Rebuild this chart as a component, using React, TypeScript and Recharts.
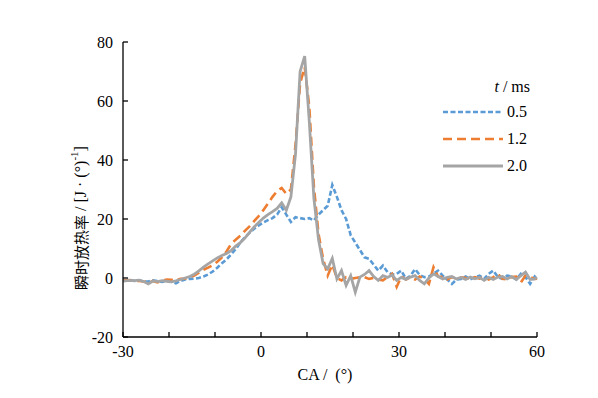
import { Label, Line, LineChart, XAxis, YAxis } from "recharts";

// crank angle, deg (ends + half-degree grid)
const CA = [
  -30, -29.5, -28.5, -27.5, -26.5, -25.5, -24.5, -23.5, -22.5, -21.5,
  -20.5, -19.5, -18.5, -17.5, -16.5, -15.5, -14.5, -13.5, -12.5, -11.5,
  -10.5, -9.5, -8.5, -7.5, -6.5, -5.5, -4.5, -3.5, -2.5, -1.5,
  -0.5, 0.5, 1.5, 2.5, 3.5, 4.5, 5.5, 6.5, 7.5, 8.5,
  9.5, 10.5, 11.5, 12.5, 13.5, 14.5, 15.5, 16.5, 17.5, 18.5,
  19.5, 20.5, 21.5, 22.5, 23.5, 24.5, 25.5, 26.5, 27.5, 28.5,
  29.5, 30.5, 31.5, 32.5, 33.5, 34.5, 35.5, 36.5, 37.5, 38.5,
  39.5, 40.5, 41.5, 42.5, 43.5, 44.5, 45.5, 46.5, 47.5, 48.5,
  49.5, 50.5, 51.5, 52.5, 53.5, 54.5, 55.5, 56.5, 57.5, 58.5,
  59.5, 60,
];

// t = 0.5 ms
const HRR_05 = [
  -1, -0.9, -0.6, -1, -0.8, -1.2, -1.2, -0.8, -1, -1.3,
  -1, -1.3, -1.8, -1, -0.5, -0.3, -0.2, 0, 0.5, 1.2,
  2.2, 3.5, 5, 6.3, 8, 9.8, 12, 13.8, 15.3, 16.7,
  17.8, 18.8, 19.6, 20.3, 21.5, 24, 21.5, 19, 20.6, 20.3,
  20, 20.3, 19.5, 21.5, 23, 24.5, 31.5, 27.5, 23, 20,
  14.5, 12, 9.5, 7, 6.5, 4.5, 2.5, 4.2, 2, 1.2,
  1.4, 2.5, -0.3, 0.8, 3, 1, 0.3, 0.5, 1.5, 2.5,
  0.8, -0.5, -2, -0.5, -0.3, 0.5, -0.5, 0.3, 0.8, -0.3,
  1.4, 2.5, 0.3, -0.3, 0.8, 0.5, -0.5, 1.4, 0.3, -2,
  0.5, -0.3,
];

// t = 1.2 ms
const HRR_12 = [
  -0.8, -0.8, -0.7, -1, -1, -1.2, -1.5, -1, -1.5, -1,
  -0.5, -0.6, -0.8, -0.3, -0.2, 0.3, 0.8, 1.8, 2.8, 3.5,
  4.3, 5.5, 7, 9, 11.5, 13, 14.3, 16, 17.5, 19.3,
  21, 23, 25.2, 27.5, 29.5, 30.5, 28.5, 30, 45, 66,
  71.5, 58, 31, 15, 6.5, 0.8, 4.5, 0, -0.8, 0.3,
  -0.3, 0, 0.3, 0.3, -0.3, 0, -0.5, -0.8, 0.3, 1.4,
  -3, 0.5, -0.5, 0.3, -0.5, 0.5, -0.3, -2, 3.7, 0.5,
  0.3, -0.5, 0.3, -0.3, 0.2, 0, -0.3, 0.3, -0.2, 0.3,
  -0.5, 0.3, 1.4, -0.3, -0.5, 0.3, 0.5, -1.5, 0.8, 0.3,
  -0.3, -0.2,
];

// t = 2.0 ms
const HRR_20 = [
  -1, -1, -0.8, -0.9, -0.7, -1.2, -2, -1, -1.2, -0.9,
  -1.1, -1.3, -1, -0.5, 0, 0.5, 1.3, 2.4, 3.7, 4.8,
  5.8, 6.8, 7.6, 8.3, 9.3, 10.8, 12, 13.5, 15.5, 17.3,
  18.8, 20.3, 21.5, 22.5, 23.6, 25.5, 23, 27.5, 42, 70,
  75.2, 53, 27, 13, 4.9, 3.1, 6.6, -0.3, 2.5, -2.5,
  0.8, -4.8, 0.3, 1.2, 2.5, 0.5, -0.8, 0.8, 0.2, 1,
  -0.8, 0.2, -0.5, 0.3, 0.8, -0.8, -2, 0, 1.4, 0.5,
  -0.3, 0.2, 0.5, -0.3, 0.2, -0.5, 0.3, -0.3, 0.2, -0.8,
  0.2, -0.5, 0.3, 0.5, -0.3, 0.5, -0.5, 0.8, 2, -0.5,
  -0.3, 0.3,
];

const X_TICKS = [-30, -20, -10, 0, 10, 20, 30, 40, 50, 60];
const X_LABELED = [-30, 0, 30, 60];
const Y_TICKS = [-20, 0, 20, 40, 60, 80];

const SERIES = [
  { key: "t05", name: "0.5", color: "#5B9BD5", dash: "5 2.5", width: 2.6 },
  { key: "t12", name: "1.2", color: "#ED7D31", dash: "9 5", width: 2.6 },
  { key: "t20", name: "2.0", color: "#A5A5A5", dash: undefined, width: 2.8 },
];

const data = CA.map((ca, i) => ({
  ca,
  t05: HRR_05[i],
  t12: HRR_12[i],
  t20: HRR_20[i],
}));

const SERIF = '"Liberation Serif", "Times New Roman", serif';
const CJK = '"Noto Sans CJK SC", sans-serif';

const W = 582;
const H = 382;

function YTitle() {
  return (
    <text
      x={72}
      y={282}
      transform="rotate(-90 72 282)"
      textAnchor="start"
      dominantBaseline="central"
      fontSize={15}
      fill="#000"
    >
      <tspan fontFamily={CJK}>瞬时放热率</tspan>
      <tspan fontFamily={SERIF} fontSize={16}>{"\u00a0/\u00a0[J\u00a0·\u00a0(°)"}</tspan>
      <tspan fontFamily={SERIF} fontSize={11} dy={-6}>-1</tspan>
      <tspan fontFamily={SERIF} fontSize={16} dy={6}>]</tspan>
    </text>
  );
}

function XTitle() {
  return (
    <text
      x={317}
      y={372}
      textAnchor="middle"
      fontSize={16}
      fontFamily={SERIF}
      fill="#000"
    >
      {"CA /\u00a0\u00a0(°)"}
    </text>
  );
}

function LegendBox() {
  return (
    <svg
      width={110}
      height={110}
      style={{ position: "absolute", left: 432, top: 64 }}
    >
      <text x={90} y={20} textAnchor="end" fontSize={16} fontFamily={SERIF}>
        <tspan fontStyle="italic">t</tspan> / ms
      </text>
      {SERIES.map((s, i) => {
        const y = 40 + i * 27;
        return (
          <g key={s.key}>
            <line
              x1={3}
              x2={63}
              y1={y}
              y2={y}
              stroke={s.color}
              strokeWidth={s.width}
              strokeDasharray={s.dash}
            />
            <text x={67} y={y + 5} fontSize={16} fontFamily={SERIF}>
              {s.name}
            </text>
          </g>
        );
      })}
    </svg>
  );
}

export default function App() {
  return (
    <div style={{ position: "relative", width: W, height: H }}>
      <LineChart
        width={W}
        height={H}
        data={data}
        margin={{ top: 34, right: 53, bottom: 23, left: 55 }}
      >
        <XAxis
          dataKey="ca"
          type="number"
          domain={[-30, 60]}
          ticks={X_TICKS}
          interval={0}
          tickFormatter={(v) => (X_LABELED.includes(v) ? String(v) : "")}
          tickSize={-5}
          tickMargin={14}
          axisLine={{ stroke: "#000", strokeWidth: 1.3 }}
          tickLine={{ stroke: "#000", strokeWidth: 1.3 }}
          tick={{ fontSize: 16, fontFamily: SERIF, fill: "#000" }}
          height={30}
        >
          <Label content={() => <XTitle />} />
        </XAxis>
        <YAxis
          type="number"
          domain={[-20, 80]}
          ticks={Y_TICKS}
          interval={0}
          tickSize={-5}
          tickMargin={15}
          axisLine={{ stroke: "#000", strokeWidth: 1.3 }}
          tickLine={{ stroke: "#000", strokeWidth: 1.3 }}
          tick={{ fontSize: 16, fontFamily: SERIF, fill: "#000" }}
          width={60}
        >
          <Label content={() => <YTitle />} />
        </YAxis>
        {SERIES.map((s) => (
          <Line
            key={s.key}
            dataKey={s.key}
            name={s.name}
            stroke={s.color}
            strokeWidth={s.width}
            strokeDasharray={s.dash}
            dot={false}
            activeDot={false}
            type="linear"
            isAnimationActive={false}
          />
        ))}
      </LineChart>
      <LegendBox />
    </div>
  );
}
